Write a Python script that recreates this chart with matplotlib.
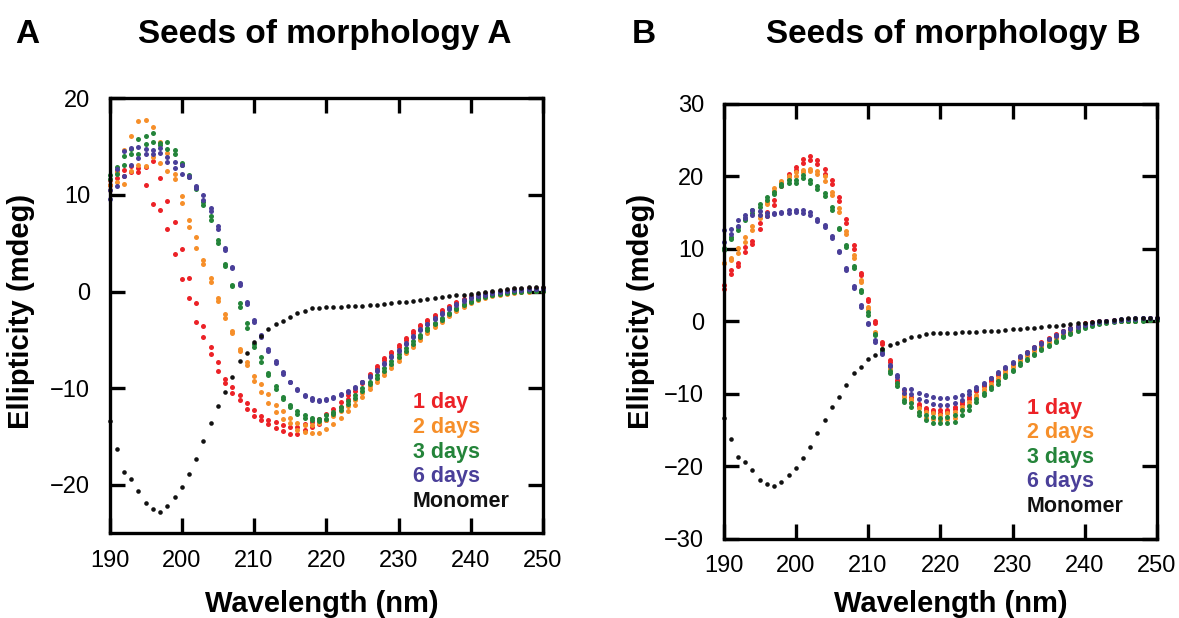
import matplotlib
matplotlib.use("Agg")
import matplotlib.pyplot as plt

plt.rcParams['font.family'] = ['Liberation Sans', 'DejaVu Sans']

wavelength = list(range(190, 251))

# Monomer (same trace shown in both panels)
monomer = [-13.4, -16.3, -18.7, -19.4, -20.6, -21.9, -22.5, -22.8, -22.2, -21.2,
           -20.2, -18.9, -17.3, -15.5, -13.6, -11.8, -10.4, -8.8, -7.2, -6.3,
           -5.2, -4.6, -3.9, -3.3, -3.0, -2.6, -2.2, -2.0, -1.7, -1.65,
           -1.6, -1.6, -1.6, -1.5, -1.5, -1.5, -1.4, -1.4, -1.3, -1.2,
           -1.1, -1.1, -1.0, -0.9, -0.8, -0.7, -0.6, -0.5, -0.4, -0.3,
           -0.2, -0.1, 0.0, 0.1, 0.2, 0.3, 0.4, 0.4, 0.5, 0.5, 0.5]

# ---------------- Panel A (two scans per sample) ----------------
a_day1_1 = [11.5, 12.5, 12.6, 13.0, 12.8, 12.9, 13.5, 11.8, 9.4, 7.2,
            4.4, 1.4, -1.2, -3.6, -5.7, -7.3, -9.0, -9.9, -10.7, -11.5,
            -12.2, -12.9, -13.3, -13.5, -13.8, -14.0, -14.0, -13.7, -13.5, -13.2,
            -12.7, -12.1, -11.4, -10.7, -10.0, -9.3, -8.5, -7.7, -6.9, -6.2,
            -5.5, -4.8, -4.1, -3.5, -2.9, -2.4, -1.9, -1.5, -1.1, -0.8,
            -0.5, -0.3, -0.1, 0.0, 0.1, 0.2, 0.3, 0.3, 0.4, 0.4, 0.4]
a_day1_2 = [11.0, 11.8, 12.0, 12.4, 12.4, 11.0, 9.1, 8.4, 6.5, 3.9,
            1.3, -0.7, -3.1, -4.7, -6.5, -8.2, -9.5, -10.5, -11.2, -12.1,
            -12.9, -13.3, -13.7, -14.1, -14.4, -14.7, -14.7, -14.3, -14.0, -13.7,
            -13.3, -12.6, -11.9, -11.1, -10.3, -9.5, -8.7, -7.9, -7.1, -6.4,
            -5.7, -5.0, -4.3, -3.6, -3.0, -2.5, -2.0, -1.6, -1.2, -0.9,
            -0.6, -0.4, -0.2, -0.1, 0.0, 0.1, 0.2, 0.3, 0.3, 0.3, 0.3]
a_day2_1 = [11.0, 12.4, 14.7, 16.1, 17.7, 17.8, 17.0, 15.5, 14.3, 12.2,
            9.9, 7.4, 5.6, 3.3, 1.4, -0.7, -2.3, -4.1, -5.9, -7.3,
            -8.7, -9.6, -10.6, -11.7, -12.4, -13.1, -13.6, -13.8, -13.8, -13.6,
            -13.3, -12.9, -12.4, -11.8, -11.2, -10.5, -9.8, -9.0, -8.3, -7.6,
            -6.9, -6.2, -5.5, -4.8, -4.1, -3.5, -2.9, -2.4, -1.9, -1.5,
            -1.1, -0.8, -0.6, -0.4, -0.2, -0.1, 0.0, 0.0, 0.1, 0.1, 0.1]
a_day2_2 = [10.5, 11.3, 11.1, 12.5, 13.1, 13.0, 13.9, 13.3, 12.5, 11.7,
            9.2, 6.7, 4.5, 2.9, 1.0, -1.0, -2.7, -4.3, -6.1, -7.6,
            -9.2, -10.4, -11.5, -12.5, -13.2, -13.6, -14.3, -14.5, -14.6, -14.6,
            -14.2, -13.7, -13.1, -12.4, -11.7, -10.9, -10.1, -9.3, -8.6, -7.9,
            -7.2, -6.4, -5.7, -5.0, -4.3, -3.7, -3.1, -2.5, -2.0, -1.6,
            -1.2, -0.9, -0.7, -0.5, -0.3, -0.2, -0.1, 0.0, 0.0, 0.1, 0.1]
a_day3_1 = [12.1, 12.9, 14.0, 14.8, 15.8, 16.1, 16.4, 15.4, 15.5, 14.6,
            13.3, 12.1, 10.8, 9.3, 7.8, 5.3, 2.9, 0.7, -1.2, -3.2,
            -5.4, -6.8, -8.4, -9.8, -10.9, -11.7, -12.4, -12.8, -13.1, -13.2,
            -12.8, -12.5, -11.9, -11.3, -10.7, -10.0, -9.3, -8.6, -7.9, -7.2,
            -6.5, -5.8, -5.1, -4.5, -3.8, -3.2, -2.7, -2.2, -1.7, -1.3,
            -1.0, -0.7, -0.5, -0.3, -0.2, -0.1, 0.0, 0.1, 0.1, 0.1, 0.1]
a_day3_2 = [11.6, 12.2, 13.1, 14.2, 14.2, 15.3, 15.5, 15.2, 14.8, 14.2,
            13.1, 11.9, 10.6, 9.0, 7.4, 5.0, 2.7, 0.6, -1.6, -3.8,
            -5.7, -7.3, -8.6, -10.1, -11.1, -11.9, -12.7, -13.1, -13.3, -13.4,
            -13.2, -12.7, -12.2, -11.6, -11.0, -10.3, -9.6, -8.9, -8.2, -7.5,
            -6.8, -6.1, -5.4, -4.7, -4.0, -3.4, -2.9, -2.3, -1.8, -1.4,
            -1.1, -0.8, -0.6, -0.4, -0.2, -0.1, 0.0, 0.0, 0.1, 0.1, 0.1]
a_day6_1 = [10.5, 12.7, 14.5, 14.9, 15.0, 14.8, 14.6, 14.9, 13.9, 13.4,
            13.1, 12.0, 10.9, 10.0, 8.7, 6.8, 4.5, 2.5, 0.9, -1.1,
            -2.9, -4.5, -5.9, -7.2, -8.3, -9.3, -10.1, -10.7, -11.0, -11.2,
            -11.1, -10.9, -10.6, -10.3, -9.9, -9.3, -8.7, -8.1, -7.4, -6.7,
            -6.0, -5.3, -4.6, -3.9, -3.3, -2.7, -2.2, -1.7, -1.3, -0.9,
            -0.6, -0.4, -0.2, -0.1, 0.0, 0.1, 0.2, 0.3, 0.3, 0.3, 0.3]
a_day6_2 = [9.6, 10.9, 12.0, 13.1, 13.8, 14.2, 14.2, 14.3, 13.4, 12.8,
            12.2, 11.9, 10.7, 9.5, 8.3, 6.5, 4.3, 2.4, 0.7, -1.3,
            -3.1, -4.7, -6.1, -7.4, -8.5, -9.4, -10.2, -10.8, -11.2, -11.3,
            -11.2, -11.0, -10.7, -10.4, -10.0, -9.4, -8.8, -8.2, -7.5, -6.8,
            -6.1, -5.4, -4.7, -4.0, -3.4, -2.8, -2.3, -1.8, -1.4, -1.0,
            -0.7, -0.5, -0.3, -0.1, 0.0, 0.1, 0.2, 0.2, 0.3, 0.3, 0.3]

# ---------------- Panel B (two scans per sample) ----------------
b_day1_1 = [5.0, 7.1, 8.0, 10.3, 11.1, 13.5, 15.1, 16.8, 19.1, 20.3,
            21.3, 22.4, 22.8, 22.2, 21.0, 19.5, 17.2, 14.1, 10.5, 6.7,
            3.1, 0.0, -2.9, -5.4, -8.1, -9.5, -10.4, -11.4, -12.0, -12.3,
            -12.3, -12.2, -11.9, -11.1, -10.5, -9.5, -8.8, -8.1, -7.3, -6.5,
            -5.8, -5.0, -4.3, -3.6, -2.9, -2.3, -1.8, -1.3, -0.9, -0.6,
            -0.3, -0.1, 0.0, 0.1, 0.2, 0.2, 0.3, 0.3, 0.3, 0.4, 0.4]
b_day1_2 = [4.5, 6.5, 7.6, 9.5, 10.6, 12.8, 14.5, 16.0, 18.7, 20.0,
            20.9, 21.9, 22.3, 21.7, 20.3, 19.0, 16.6, 13.5, 10.0, 6.4,
            2.8, -0.2, -3.1, -5.6, -8.3, -10.0, -10.8, -11.7, -12.3, -12.6,
            -12.7, -12.5, -12.1, -11.4, -10.7, -9.7, -9.0, -8.2, -7.4, -6.6,
            -5.9, -5.1, -4.4, -3.7, -3.0, -2.4, -1.9, -1.4, -1.0, -0.7,
            -0.4, -0.2, -0.1, 0.0, 0.1, 0.2, 0.2, 0.3, 0.3, 0.3, 0.3]
b_day2_1 = [8.0, 8.8, 10.1, 11.7, 13.1, 14.7, 16.5, 18.4, 19.4, 20.0,
            20.6, 20.9, 21.0, 20.8, 20.0, 17.9, 15.6, 12.4, 9.1, 5.7,
            1.9, -1.5, -3.8, -6.3, -8.6, -10.2, -10.8, -12.0, -12.5, -12.7,
            -12.9, -12.7, -12.5, -11.8, -11.2, -10.2, -9.3, -8.6, -7.9, -6.9,
            -6.2, -5.3, -4.7, -4.0, -3.4, -2.8, -2.2, -1.7, -1.3, -0.9,
            -0.6, -0.4, -0.2, -0.1, 0.0, 0.1, 0.1, 0.2, 0.2, 0.2, 0.2]
b_day2_2 = [8.0, 8.5, 9.4, 11.0, 12.6, 14.3, 16.2, 18.0, 19.0, 19.7,
            20.1, 20.6, 20.7, 20.4, 19.4, 17.4, 15.1, 12.0, 8.8, 5.4,
            1.7, -1.6, -4.0, -6.6, -8.8, -10.4, -11.2, -12.5, -13.3, -13.5,
            -13.7, -13.5, -13.4, -12.2, -11.5, -10.4, -9.5, -8.8, -8.1, -7.1,
            -6.3, -5.4, -4.8, -4.1, -3.5, -2.9, -2.3, -1.8, -1.4, -1.0,
            -0.7, -0.4, -0.3, -0.1, 0.0, 0.0, 0.1, 0.1, 0.2, 0.2, 0.2]
b_day3_1 = [10.1, 11.7, 13.0, 14.3, 15.4, 16.2, 17.1, 17.9, 19.0, 19.5,
            19.5, 20.2, 19.5, 18.7, 17.7, 15.8, 12.9, 10.5, 7.6, 4.3,
            1.3, -1.8, -3.9, -6.9, -8.5, -10.9, -11.3, -12.5, -12.9, -13.2,
            -13.4, -13.2, -12.9, -12.3, -11.7, -10.8, -9.9, -9.1, -8.3, -7.4,
            -6.7, -5.8, -5.2, -4.5, -3.9, -3.3, -2.7, -2.1, -1.6, -1.2,
            -0.8, -0.5, -0.3, -0.1, 0.0, 0.1, 0.1, 0.1, 0.2, 0.2, 0.2]
b_day3_2 = [9.8, 11.3, 12.6, 14.0, 15.0, 15.8, 16.8, 17.6, 18.7, 19.1,
            19.1, 19.8, 19.1, 18.3, 17.3, 15.4, 12.7, 10.3, 7.4, 4.1,
            0.9, -1.9, -4.1, -7.1, -9.0, -11.1, -11.9, -12.9, -13.7, -14.0,
            -14.1, -14.1, -13.9, -12.9, -12.3, -11.1, -10.2, -9.4, -8.6, -7.7,
            -6.9, -6.0, -5.4, -4.7, -4.0, -3.4, -2.8, -2.2, -1.7, -1.3,
            -0.9, -0.6, -0.4, -0.2, -0.1, 0.0, 0.1, 0.1, 0.1, 0.2, 0.2]
b_day6_1 = [12.6, 12.8, 14.0, 14.7, 15.3, 15.2, 15.0, 15.0, 15.1, 15.3,
            15.4, 15.3, 15.1, 14.1, 13.3, 11.8, 9.7, 7.4, 4.8, 2.2,
            -0.2, -2.6, -4.4, -6.0, -7.4, -9.3, -9.4, -9.9, -10.2, -10.4,
            -10.6, -10.6, -10.4, -10.2, -9.7, -9.1, -8.5, -7.8, -7.0, -6.3,
            -5.6, -4.8, -4.3, -3.6, -3.0, -2.4, -1.9, -1.4, -1.0, -0.7,
            -0.4, -0.2, 0.0, 0.1, 0.2, 0.3, 0.3, 0.4, 0.4, 0.4, 0.4]
b_day6_2 = [11.0, 12.1, 13.1, 14.2, 14.7, 14.7, 14.5, 14.8, 14.9, 15.0,
            15.1, 15.0, 14.7, 13.8, 13.0, 11.5, 9.5, 7.1, 4.6, 2.0,
            -0.4, -2.8, -4.5, -6.2, -7.7, -9.9, -10.0, -10.8, -11.0, -11.4,
            -11.6, -11.6, -11.3, -10.9, -10.1, -9.3, -8.6, -7.9, -7.2, -6.5,
            -5.8, -5.0, -4.4, -3.7, -3.1, -2.5, -2.0, -1.5, -1.1, -0.8,
            -0.5, -0.3, -0.1, 0.0, 0.1, 0.2, 0.3, 0.3, 0.4, 0.4, 0.4]

labels = ['1 day', '2 days', '3 days', '6 days', 'Monomer']
colors = ['#ec2227', '#f68f2a', '#24843a', '#4a3f99', '#111111']

panel_A = [(a_day1_1, a_day1_2), (a_day2_1, a_day2_2), (a_day3_1, a_day3_2), (a_day6_1, a_day6_2)]
panel_B = [(b_day1_1, b_day1_2), (b_day2_1, b_day2_2), (b_day3_1, b_day3_2), (b_day6_1, b_day6_2)]

W, H = 1179, 618
fig = plt.figure(figsize=(W / 100, H / 100), dpi=100)

axA = fig.add_axes([109.5 / W, 1 - 533.3 / H, 433.5 / W, 435.0 / H])
axB = fig.add_axes([723.5 / W, 1 - 538.5 / H, 433.5 / W, 434.5 / H])


def draw(ax, series, ylim, yticks):
    for (s1, s2), c in zip(series, colors[:4]):
        ax.plot(wavelength, s1, 'o', ms=3.6, color=c, mec='none', clip_on=False)
        ax.plot(wavelength, s2, 'o', ms=3.6, color=c, mec='none', clip_on=False)
    ax.plot(wavelength, monomer, 'o', ms=3.3, color=colors[4], mec='none', clip_on=False)
    ax.set_xlim(190, 250)
    ax.set_ylim(*ylim)
    ax.set_xticks(range(190, 251, 10))
    ax.set_yticks(yticks)
    for sp in ax.spines.values():
        sp.set_linewidth(2.4)
    ax.tick_params(direction='in', length=10.8, width=2.4, top=True, right=True,
                   labelsize=17)
    ax.tick_params(axis='x', pad=12)
    ax.tick_params(axis='y', pad=14)
    for i, (lab, c) in enumerate(zip(labels, colors)):
        ax.text(0.70, 0.287 - i * 0.0565, lab, transform=ax.transAxes, color=c,
                fontsize=15.5, fontweight='bold', va='baseline', ha='left')


draw(axA, panel_A, (-25, 20), [-20, -10, 0, 10, 20])
draw(axB, panel_B, (-30, 30), [-30, -20, -10, 0, 10, 20, 30])

# Titles and panel letters
fig.text(15 / W, 1 - 43 / H, 'A', fontsize=24, fontweight='bold', va='baseline', ha='left')
fig.text(632 / W, 1 - 43 / H, 'B', fontsize=24, fontweight='bold', va='baseline', ha='left')
fig.text(325 / W, 1 - 43 / H, 'Seeds of morphology A', fontsize=24, fontweight='bold',
         va='baseline', ha='center')
fig.text(953 / W, 1 - 43 / H, 'Seeds of morphology B', fontsize=24, fontweight='bold',
         va='baseline', ha='center')

# Axis labels
for x in (21, 641):
    fig.text(x / W, 1 - 311 / H, 'Ellipticity (mdeg)', rotation=90, fontsize=21,
             fontweight='bold', va='center', ha='center')
fig.text(322 / W, 1 - 612 / H, 'Wavelength (nm)', fontsize=21, fontweight='bold',
         va='baseline', ha='center')
fig.text(951 / W, 1 - 612 / H, 'Wavelength (nm)', fontsize=21, fontweight='bold',
         va='baseline', ha='center')

fig.savefig('out.png', dpi=100)
